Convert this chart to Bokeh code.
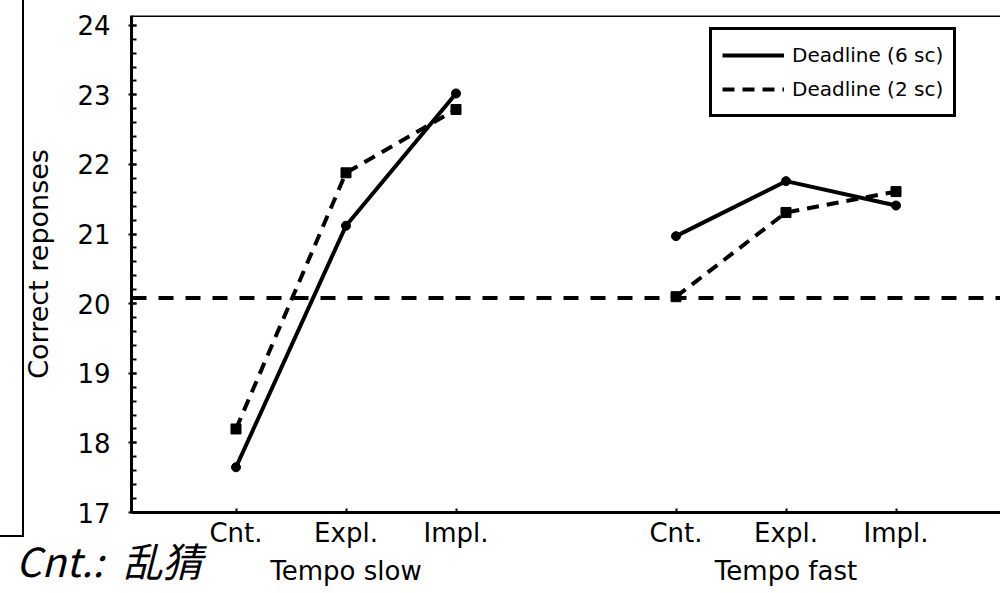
from bokeh.plotting import figure
from bokeh.layouts import column
from bokeh.models import (FactorRange, Range1d, CategoricalAxis, FixedTicker, Span, Legend,
                          LegendItem, Div)
from bokeh.embed import file_html
from bokeh.resources import INLINE

# ---- data -------------------------------------------------------------
groups = ["Tempo slow", "Tempo fast"]
conditions = ["Cnt.", "Expl.", "Impl."]
deadline6_slow = [17.65, 21.12, 23.02]
deadline6_fast = [20.97, 21.76, 21.41]
deadline2_slow = [18.20, 21.88, 22.79]
deadline2_fast = [20.10, 21.31, 21.61]
chance_level = 20.08
y_ticks = [17, 18, 19, 20, 21, 22, 23, 24]
series_names = ["Deadline (6 sc)", "Deadline (2 sc)"]
y_title = "Correct reponses"
note_text = "Cnt.: 乱猜"

FONT = "DejaVu Sans"
Y_MIN, Y_MAX = 17, 24.14

factors = [(g, c) for g in groups for c in conditions]
slow_x = [(groups[0], c) for c in conditions]
fast_x = [(groups[1], c) for c in conditions]

p = figure(width=1000, height=593,
           x_range=FactorRange(*factors, group_padding=1.0, range_padding=0.45,
                               range_padding_units="absolute"),
           y_range=Range1d(Y_MIN, Y_MAX),
           output_backend="svg", toolbar_location=None, x_axis_location=None,
           min_border_left=131, min_border_right=0, min_border_top=15, min_border_bottom=81)
p.outline_line_color = None
p.xgrid.visible = False
p.ygrid.visible = False
p.background_fill_color = "white"
p.border_fill_color = "white"

# y axis
ya = p.yaxis[0]
ya.ticker = FixedTicker(ticks=y_ticks, minor_ticks=[17 + i * 0.2 for i in range(36)])
ya.axis_label = y_title
ya.axis_label_text_font = FONT
ya.axis_label_text_font_size = "27px"
ya.axis_label_text_font_style = "normal"
ya.axis_label_text_color = "black"
ya.axis_label_standoff = 20
ya.major_label_text_font = FONT
ya.major_label_text_font_size = "26px"
ya.major_label_text_color = "black"
ya.major_label_standoff = 18
ya.axis_line_width = 3
ya.axis_line_color = "black"
ya.major_tick_in = 5
ya.major_tick_out = 3
ya.major_tick_line_width = 2
ya.minor_tick_in = 5
ya.minor_tick_out = 0
ya.minor_tick_line_width = 2

cat = CategoricalAxis(axis_line_color="black", axis_line_width=3,
                      major_tick_in=4, major_tick_out=0, major_tick_line_width=2,
                      major_label_text_font=FONT, major_label_text_font_size="26px",
                      major_label_text_color="black", major_label_standoff=5,
                      group_text_font=FONT, group_text_font_size="26px",
                      group_text_font_style="normal", group_text_color="black",
                      group_label_orientation="horizontal",
                      separator_line_color=None)
p.add_layout(cat, "below")

# top border
p.add_layout(Span(location=Y_MAX, dimension="width", line_color="black", line_width=3))

# chance line
p.add_layout(Span(location=chance_level, dimension="width", line_color="black",
                  line_width=4, line_dash="15 12"))

# series
l6a = p.line(slow_x, deadline6_slow, line_color="black", line_width=4)
p.line(fast_x, deadline6_fast, line_color="black", line_width=4)
p.scatter(slow_x + fast_x, deadline6_slow + deadline6_fast, marker="circle", size=9,
          color="black")
l2a = p.line(slow_x, deadline2_slow, line_color="black", line_width=4, line_dash="12 8")
p.line(fast_x, deadline2_fast, line_color="black", line_width=4, line_dash="12 8")
p.scatter(slow_x + fast_x, deadline2_slow + deadline2_fast, marker="square", size=10,
          color="black")

legend = Legend(items=[LegendItem(label=series_names[0], renderers=[l6a]),
                       LegendItem(label=series_names[1], renderers=[l2a])],
                location=(578, 395), border_line_color="black", border_line_width=3,
                border_line_alpha=1.0,
                label_text_font=FONT, label_text_font_size="20px", label_text_color="black",
                glyph_width=62, glyph_height=30, label_height=30, spacing=4,
                padding=10, margin=0, label_standoff=8, background_fill_alpha=1)
p.add_layout(legend)

# outer frame fragment at the left and the note text (HTML overlays)
box = Div(text="", styles={"position": "absolute", "left": "-14px", "top": "-14px",
                           "width": "33px", "height": "546px", "box-sizing": "border-box",
                           "border": "2.5px solid black", "pointer-events": "none"})
note = Div(text=note_text, styles={"position": "absolute", "left": "11px", "top": "535px",
                                   "font-family": "'Noto Sans CJK SC'", "font-size": "40px",
                                   "font-style": "italic", "line-height": "1",
                                   "word-spacing": "10px",
                                   "color": "black", "white-space": "nowrap"})

layout = column(p, box, note)
open("out.html", "w").write(file_html(layout, INLINE))
